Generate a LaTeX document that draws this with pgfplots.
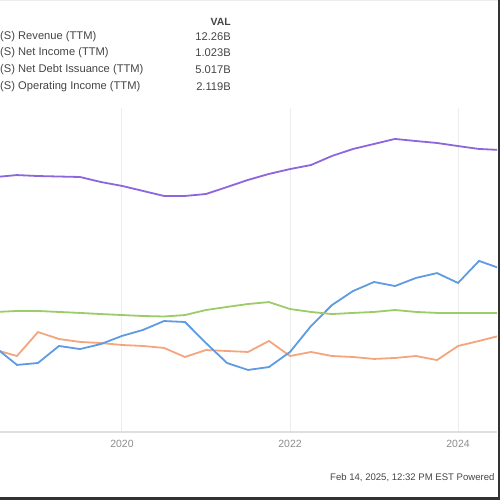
\documentclass[border=0pt]{standalone}
\usepackage{fontspec}
\setmainfont{Liberation Sans}
\usepackage{pgfplots}
\pgfplotsset{compat=1.18}
\usepackage{pgfplotstable}

\definecolor{revcol}{HTML}{8C66DC}
\definecolor{nicol}{HTML}{F4A57E}
\definecolor{debtcol}{HTML}{5E9BE2}
\definecolor{opcol}{HTML}{9CCB6A}
\definecolor{gridcol}{HTML}{EDEDED}
\definecolor{txtcol}{HTML}{444444}

% quarterly values, billions
\pgfplotstableread{
t       rev    ni     debt   op
2018.50 10.74  0.06   0.19   2.41
2018.75 10.86 -0.31  -0.86   2.47
2019.00 10.80  1.17  -0.74   2.47
2019.25 10.77  0.74   0.31   2.41
2019.50 10.74  0.56   0.12   2.35
2019.75 10.43  0.49   0.43   2.28
2020.00 10.19  0.37   0.93   2.22
2020.25  9.88  0.31   1.30   2.16
2020.50  9.57  0.19   1.85   2.13
2020.75  9.57 -0.37   1.79   2.22
2021.00  9.69  0.06   0.49   2.53
2021.25 10.12  0.00  -0.74   2.72
2021.50 10.56 -0.06  -1.17   2.90
2021.75 10.93  0.62  -0.99   3.02
2022.00 11.23 -0.31  -0.06   2.59
2022.25 11.48 -0.06   1.54   2.41
2022.50 12.04 -0.31   2.84   2.28
2022.75 12.47 -0.37   3.70   2.35
2023.00 12.78 -0.49   4.26   2.41
2023.25 13.09 -0.43   4.01   2.53
2023.50 12.96 -0.31   4.51   2.41
2023.75 12.84 -0.56   4.81   2.35
2024.00 12.65  0.31   4.20   2.35
2024.25 12.47  0.62   5.56   2.35
2024.50 12.41  0.95   5.10   2.35
}\datatable

\begin{document}
\begin{tikzpicture}[x=1bp,y=1bp]
\path[use as bounding box] (0,0) rectangle (500,500);
\draw[gridcol, line width=1bp] (0,499.5) -- (500,499.5);

\begin{axis}[
    at={(0bp,68bp)}, anchor=south west,
    scale only axis,
    width=497bp, height=324bp,
    xmin=2018.548, xmax=2024.464,
    ymin=-5, ymax=15,
    xtick={2020,2022,2024},
    ytick={-5,0,5,10,15},
    yticklabels={},
    xticklabel style={/pgf/number format/1000 sep=, font=\fontsize{10.5}{12}\selectfont, text=gray!90},
    /pgf/number format/assume math mode=true,
    major tick length=0pt,
    xmajorgrids, ymajorgrids,
    major grid style={gridcol, line width=1bp},
    axis x line*=bottom,
    axis y line=none,
    x axis line style={draw=gray!25, line width=1.5bp, -},
    xticklabel shift=5bp,
    clip=true,
]
\addplot[revcol, line width=1.8bp] table[x=t, y=rev] {\datatable};
\addplot[nicol, line width=1.8bp] table[x=t, y=ni] {\datatable};
\addplot[debtcol, line width=1.8bp] table[x=t, y=debt] {\datatable};
\addplot[opcol, line width=1.8bp] table[x=t, y=op] {\datatable};
\end{axis}

% legend (cut at the left edge)
\begin{scope}[every node/.style={font=\fontsize{11.2}{13}\selectfont, text=txtcol, inner sep=0pt}]
\node[anchor=east, font=\fontsize{10.5}{12}\selectfont\bfseries] at (231,478) {VAL};
\node[anchor=west] at (0,463) {(S) Revenue (TTM)};
\node[anchor=west] at (0,447) {(S) Net Income (TTM)};
\node[anchor=west] at (0,430) {(S) Net Debt Issuance (TTM)};
\node[anchor=west] at (0,413) {(S) Operating Income (TTM)};
\node[anchor=east] at (231,463) {12.26B};
\node[anchor=east] at (231,447) {1.023B};
\node[anchor=east] at (231,430) {5.017B};
\node[anchor=east] at (231,413) {2.119B};
\end{scope}

\node[anchor=west, inner sep=0pt, font=\fontsize{9.6}{11}\selectfont, text=txtcol] at (330,22) {Feb 14, 2025, 12:32 PM EST Powered};

\draw[black!80, line width=2.5bp] (0,1.25) -- (498.75,1.25) -- (498.75,500);
\end{tikzpicture}
\end{document}
